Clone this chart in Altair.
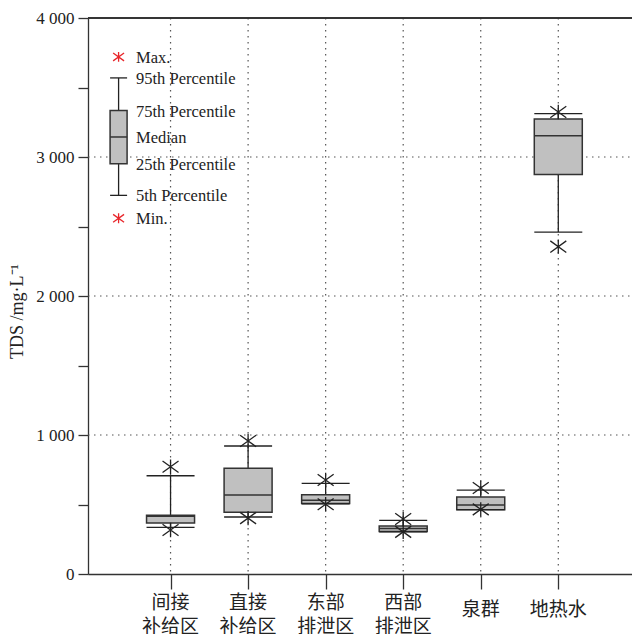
import altair as alt
import pandas as pd

# ---------------- data ----------------
categories = ["间接\n补给区", "直接\n补给区", "东部\n排泄区", "西部\n排泄区", "泉群", "地热水"]
tds_min = [317, 402, 502, 303, 465, 2355]
tds_p5 = [336, 410, 505, 303, 463, 2460]
tds_q1 = [367, 444, 508, 305, 463, 2875]
tds_med = [415, 568, 530, 328, 496, 3153]
tds_q3 = [422, 760, 571, 345, 554, 3273]
tds_p95 = [707, 921, 652, 386, 604, 3312]
tds_max = [772, 957, 676, 396, 619, 3324]

legend_labels = ["Max.", "95th Percentile", "75th Percentile", "Median",
                 "25th Percentile", "5th Percentile", "Min."]
legend_values = [3720, 3569, 3334, 3144, 2952, 2724, 2559]

y_ticks = [0, 500, 1000, 1500, 2000, 2500, 3000, 3500, 4000]
grid_y = [1000, 2000, 3000]

# ---------------- layout constants ----------------
W, H = 544, 556
XMAX = 6.886
LEG_X = 0.33
LEG_TX = 0.555
BOX_W = 48
LEG_W = 17
SERIF = "Liberation Serif"
CJK = "Noto Sans CJK SC"
AX = "#333333"

pos = list(range(1, len(categories) + 1))
df = pd.DataFrame({
    "pos": pos, "cat": categories,
    "mn": tds_min, "p5": tds_p5, "q1": tds_q1, "med": tds_med,
    "q3": tds_q3, "p95": tds_p95, "mx": tds_max,
})
df["lines"] = df["cat"].str.count("\n") + 1

stars = pd.concat([
    pd.DataFrame({"pos": pos, "v": tds_min}),
    pd.DataFrame({"pos": pos, "v": tds_max}),
])

leg = pd.DataFrame({"pos": [LEG_X], "mx": [legend_values[0]], "p95": [legend_values[1]],
                    "q3": [legend_values[2]], "med": [legend_values[3]], "q1": [legend_values[4]],
                    "p5": [legend_values[5]], "mn": [legend_values[6]]})
leg_stars = pd.DataFrame({"pos": [LEG_X, LEG_X], "v": [legend_values[0], legend_values[6]]})
leg_text = pd.DataFrame({"pos": [LEG_TX] * len(legend_labels), "v": legend_values, "t": legend_labels})

gy = pd.DataFrame({"g": grid_y})

xscale = alt.Scale(domain=[0, XMAX], nice=False, zero=False)
yscale = alt.Scale(domain=[0, 4000], nice=False)

xaxis = alt.Axis(values=pos, labels=False, tickSize=15, grid=False, title=None,
                 domainColor=AX, tickColor=AX, domainWidth=1.3, tickWidth=1.3)
yaxis = alt.Axis(values=y_ticks, tickSize=10, grid=False, title="TDS /mg·L⁻¹",
                 labelExpr="datum.value % 1000 == 0 ? replace(format(datum.value, ','), ',', ' ') : ''",
                 labelFont=SERIF, labelFontSize=17, labelColor="#222", labelPadding=4,
                 titleFont=SERIF, titleFontSize=18, titleFontWeight="normal", titleColor="#222",
                 titleX=-71, titleY=293, titleAngle=270, titleAlign="center", titleBaseline="middle",
                 domainColor=AX, tickColor=AX, domainWidth=1.3, tickWidth=1.3)


def X():
    return alt.X("pos:Q", scale=xscale, axis=xaxis, title=None)


def Y(f):
    return alt.Y(f"{f}:Q", scale=yscale, axis=yaxis)


STAR = "M-1,-0.72L1,0.72M-1,0.72L1,-0.72M0,-0.9L0,0.9"
DOT = [1.5, 4.5]

base = alt.Chart(df)

grid_v = base.mark_rule(color="#555", strokeDash=DOT, strokeWidth=1.2).encode(
    x=X(), y=alt.value(0), y2=alt.value(H))
grid_h = alt.Chart(gy).mark_rule(color="#555", strokeDash=DOT, strokeWidth=1.2).encode(
    y=Y("g"), x=alt.value(0), x2=alt.value(W))
top_line = alt.Chart(gy).mark_rule(color=AX, strokeWidth=1.3).encode(
    y=alt.value(0), x=alt.value(0), x2=alt.value(W))


def boxplot(data, bw, star_data, star_color, star_size):
    b = alt.Chart(data)
    whisk = b.mark_rule(color="#222", strokeWidth=1.3).encode(x=X(), y=Y("p5"), y2="p95:Q")
    box = b.mark_bar(size=bw, color="#c0c0c0", stroke=AX, strokeWidth=1.5).encode(
        x=X(), y=Y("q1"), y2="q3:Q")
    med = b.mark_rule(color=AX, strokeWidth=1.5, xOffset=-bw / 2, x2Offset=bw / 2).encode(
        x=X(), x2="pos:Q", y=Y("med"))
    cap_lo = b.mark_rule(color="#222", strokeWidth=1.3, xOffset=-bw / 2, x2Offset=bw / 2).encode(
        x=X(), x2="pos:Q", y=Y("p5"))
    cap_hi = b.mark_rule(color="#222", strokeWidth=1.3, xOffset=-bw / 2, x2Offset=bw / 2).encode(
        x=X(), x2="pos:Q", y=Y("p95"))
    st = alt.Chart(star_data).mark_point(shape=STAR, size=star_size, filled=False,
                                         color=star_color, strokeWidth=1.3, opacity=1).encode(
        x=X(), y=Y("v"))
    return [whisk, box, med, cap_lo, cap_hi, st]


main_layers = boxplot(df, BOX_W, stars, "#222", 256)
leg_layers = boxplot(leg, LEG_W, leg_stars, "#e8262b", 120)

leg_labels = alt.Chart(leg_text).mark_text(align="left", baseline="middle", font=SERIF,
                                           fontSize=16.5, color="#222", dy=1).encode(
    x=X(), y=Y("v"), text="t:N")

lab_multi = base.transform_filter("datum.lines > 1").mark_text(
    baseline="middle", align="center", font=CJK, fontSize=19, color="#222",
    lineBreak="\n", lineHeight=24).encode(x=X(), y=alt.value(585), text="cat:N")
lab_single = base.transform_filter("datum.lines == 1").mark_text(
    baseline="middle", align="center", font=CJK, fontSize=19, color="#222").encode(
    x=X(), y=alt.value(592), text="cat:N")

chart = alt.layer(
    grid_v, grid_h, *main_layers, *leg_layers, leg_labels, lab_multi, lab_single, top_line
).properties(
    width=W, height=H,
    autosize=alt.AutoSizeParams(type="none"),
    padding={"left": 80, "top": 10, "right": 0, "bottom": 60},
).configure_view(stroke=None).configure(background="white")

chart.save("out.html", embed_options={"renderer": "svg", "actions": False})
